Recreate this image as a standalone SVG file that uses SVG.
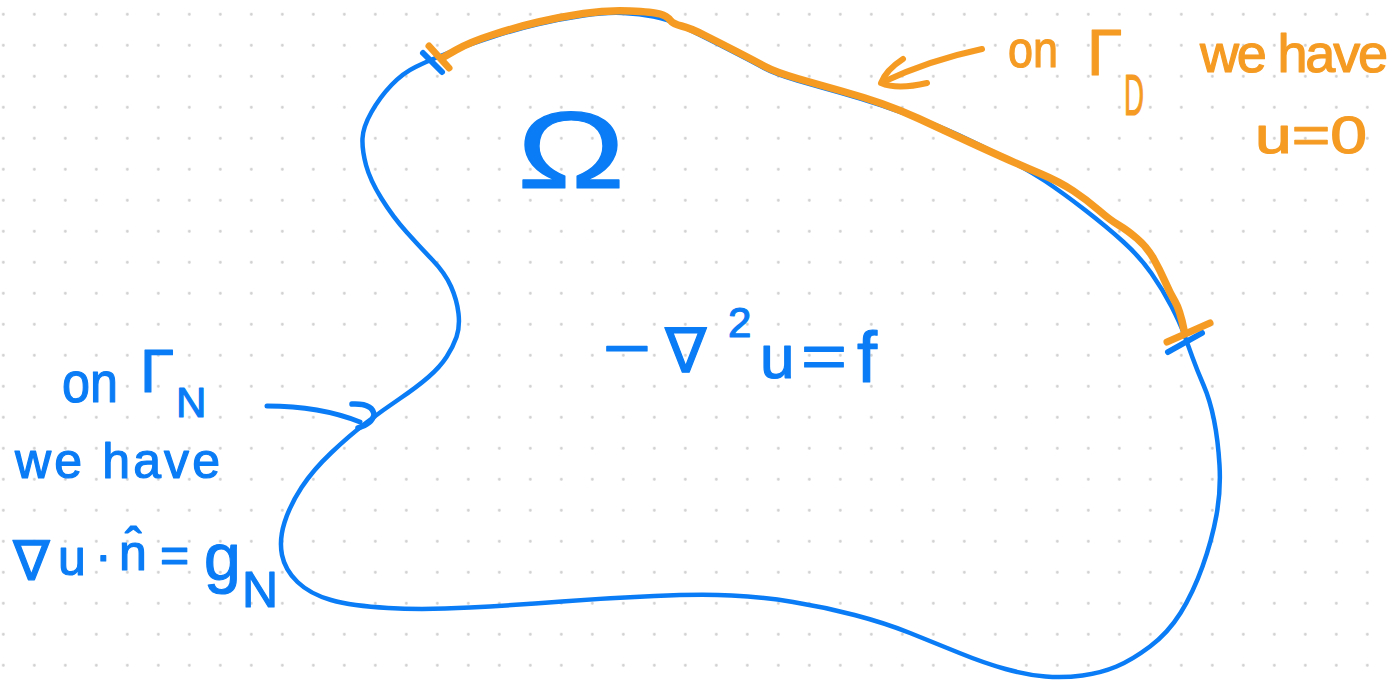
<svg xmlns="http://www.w3.org/2000/svg" width="1396" height="681" viewBox="0 0 1396 681">
<defs>
<pattern id="dots" x="-12.2" y="-1.2" width="31" height="31" patternUnits="userSpaceOnUse">
<circle cx="15.5" cy="15.5" r="1.4" fill="#cfcfcf"/>
</pattern>
<style>
.blue{fill:none;stroke:#0a7cf5;stroke-linecap:round;stroke-linejoin:round}
.orange{fill:none;stroke:#f59b23;stroke-linecap:round;stroke-linejoin:round}
.tb{fill:#0a7cf5;stroke:#0a7cf5;stroke-width:1.2;stroke-linejoin:round;font-family:"Liberation Sans","DejaVu Sans",sans-serif}
.to{fill:#f59b23;stroke:#f59b23;stroke-width:1.2;stroke-linejoin:round;font-family:"Liberation Sans","DejaVu Sans",sans-serif}
</style>
</defs>
<rect width="1396" height="681" fill="#ffffff"/>
<rect width="1396" height="681" fill="url(#dots)"/>

<g id="domain-boundary">
<path class="blue" stroke-width="4.5" d="M435.5,58 Q428,61 415.5,67 Q403,73 391.5,85 Q380,97 371.5,112 Q363,127 362.5,138.5 Q362,150 366,165 Q370,180 381.5,198.5 Q393,217 406.5,232 Q420,247 432.5,260 Q445,273 451,286.5 Q457,300 458.5,313.5 Q460,327 456.5,337 Q453,347 446.5,357 Q440,367 428.5,377 Q417,387 400,398.5 Q383,410 366.5,422.5 Q350,435 331.5,452.5 Q313,470 301.5,487.5 Q290,505 284.5,522.5 Q279,540 282,555 Q285,570 297.5,582 Q310,594 331,600 Q352,606 388,608 Q424,610 470,607.5 Q516,605 562,601.5 Q608,598 654.5,596 Q701,594 731.5,595.5 Q762,597 793,602 Q824,607 854.5,615 Q885,623 910,633 Q935,643 959.5,653 Q984,663 1005.5,669 Q1027,675 1045.5,676.5 Q1064,678 1082.5,675.5 Q1101,673 1116.5,666.5 Q1132,660 1150,646.5 Q1168,633 1180.5,613 Q1193,593 1202.5,566.5 Q1212,540 1216.5,515 Q1221,490 1219.5,465 Q1218,440 1214,420 Q1210,400 1203.5,385 Q1197,370 1192.5,357.5 Q1188,345 1184,334 Q1180,323 1171.5,306.5 Q1163,290 1151.5,273.5 Q1140,257 1123.5,242 Q1107,227 1085,210 Q1063,193 1045,181 Q1027,169 1003.5,157 Q980,145 958.5,135 Q937,125 918.5,118.5 Q900,112 881.5,105.5 Q863,99 841.5,93 Q820,87 797.5,80.5 Q775,74 764,68 Q753,62 736.5,53.5 Q720,45 705,37.5 Q690,30 678.5,24.5 Q667,19 653.5,16.5 Q640,14 623.5,13 Q607,12 583.5,15.5 Q560,19 538.5,24 Q517,29 493.5,36.5 Q470,44 456.5,49.5 Q443,55 435.5,58 Z"/>
<line class="blue" stroke-width="6" x1="423" y1="53" x2="442" y2="72"/>
<line class="blue" stroke-width="6" x1="1168" y1="352" x2="1202" y2="333"/>
</g>

<g id="dirichlet-boundary">
<path class="orange" stroke-width="7.5" d="M442,58 L456,50 Q470,42 493.5,34.5 Q517,27 538.5,22 Q560,17 583.5,13.5 Q607,10 630,11 Q653,12 660,14 Q667,16 670,20 Q673,24 681.5,26 Q690,28 705,35.5 Q720,43 736.5,51.5 Q753,60 764,66 Q775,72 797.5,78.5 Q820,85 841.5,91 Q863,97 881.5,103.5 Q900,110 918.5,118.5 Q937,127 958.5,137 Q980,147 1000,156 Q1020,165 1040,173.5 Q1060,182 1073.5,191 Q1087,200 1098.5,210 Q1110,220 1118.5,225 Q1127,230 1137,238.5 Q1147,247 1153.5,258.5 Q1160,270 1165,281.5 Q1170,293 1175,301.5 Q1180,310 1184,330"/>
<line class="orange" stroke-width="7" x1="429" y1="46" x2="449" y2="68"/>
<line class="orange" stroke-width="7" x1="1167" y1="342" x2="1210" y2="323"/>
</g>

<g id="omega-label">
<text class="tb" x="517" y="188" font-size="110" textLength="108" lengthAdjust="spacingAndGlyphs">Ω</text>
</g>

<g id="pde-label">
<text class="tb" x="603" y="370" font-size="64" textLength="48" lengthAdjust="spacingAndGlyphs">−</text>
<text class="tb" x="665" y="372" font-size="62">∇</text>
<text class="tb" x="728" y="337" font-size="42">2</text>
<text class="tb" x="760" y="378" font-size="62">u</text>
<text class="tb" x="801" y="377" font-size="62" textLength="46" lengthAdjust="spacingAndGlyphs">=</text>
<text class="tb" x="857" y="382" font-size="72">f</text>
</g>

<g id="neumann-label">
<text class="tb" x="62" y="402" font-size="58" textLength="56" lengthAdjust="spacingAndGlyphs">on</text>
<text class="tb" x="140" y="392" font-size="62">Γ</text>
<text class="tb" x="176" y="417" font-size="42">N</text>
<text class="tb" x="15" y="478" font-size="50" textLength="205" lengthAdjust="spacing">we have</text>
<text class="tb" x="13" y="580" font-size="55">∇</text>
<text class="tb" x="58" y="575" font-size="50">u</text>
<text class="tb" x="95" y="572" font-size="50">·</text>
<text class="tb" x="119" y="570" font-size="50">n̂</text>
<text class="tb" x="160" y="572" font-size="50">=</text>
<text class="tb" x="204" y="580" font-size="66">g</text>
<text class="tb" x="242" y="607" font-size="50">N</text>
</g>

<g id="dirichlet-label">
<text class="to" x="1008" y="67" font-size="52" textLength="50" lengthAdjust="spacingAndGlyphs">on</text>
<text class="to" x="1087" y="75" font-size="64">Γ</text>
<text class="to" x="1124" y="115" font-size="58" textLength="20" lengthAdjust="spacingAndGlyphs">D</text>
<text class="to" x="1200" y="72" font-size="54" textLength="188" lengthAdjust="spacing">we have</text>
<text class="to" x="1255" y="153" font-size="52" textLength="112" lengthAdjust="spacingAndGlyphs">u=0</text>
</g>

<g id="connectors">
<path class="orange" stroke-width="6" d="M982,49 Q930,60 883,82"/>
<path class="orange" stroke-width="6" d="M903,59 Q886,70 881,83 Q897,90 927,83"/>
<path class="blue" stroke-width="5" d="M267,406 Q320,406 360,422"/>
<path class="blue" stroke-width="5.5" d="M352,404 Q373,403 374,415 Q372,424 358,428"/>
</g>
</svg>
